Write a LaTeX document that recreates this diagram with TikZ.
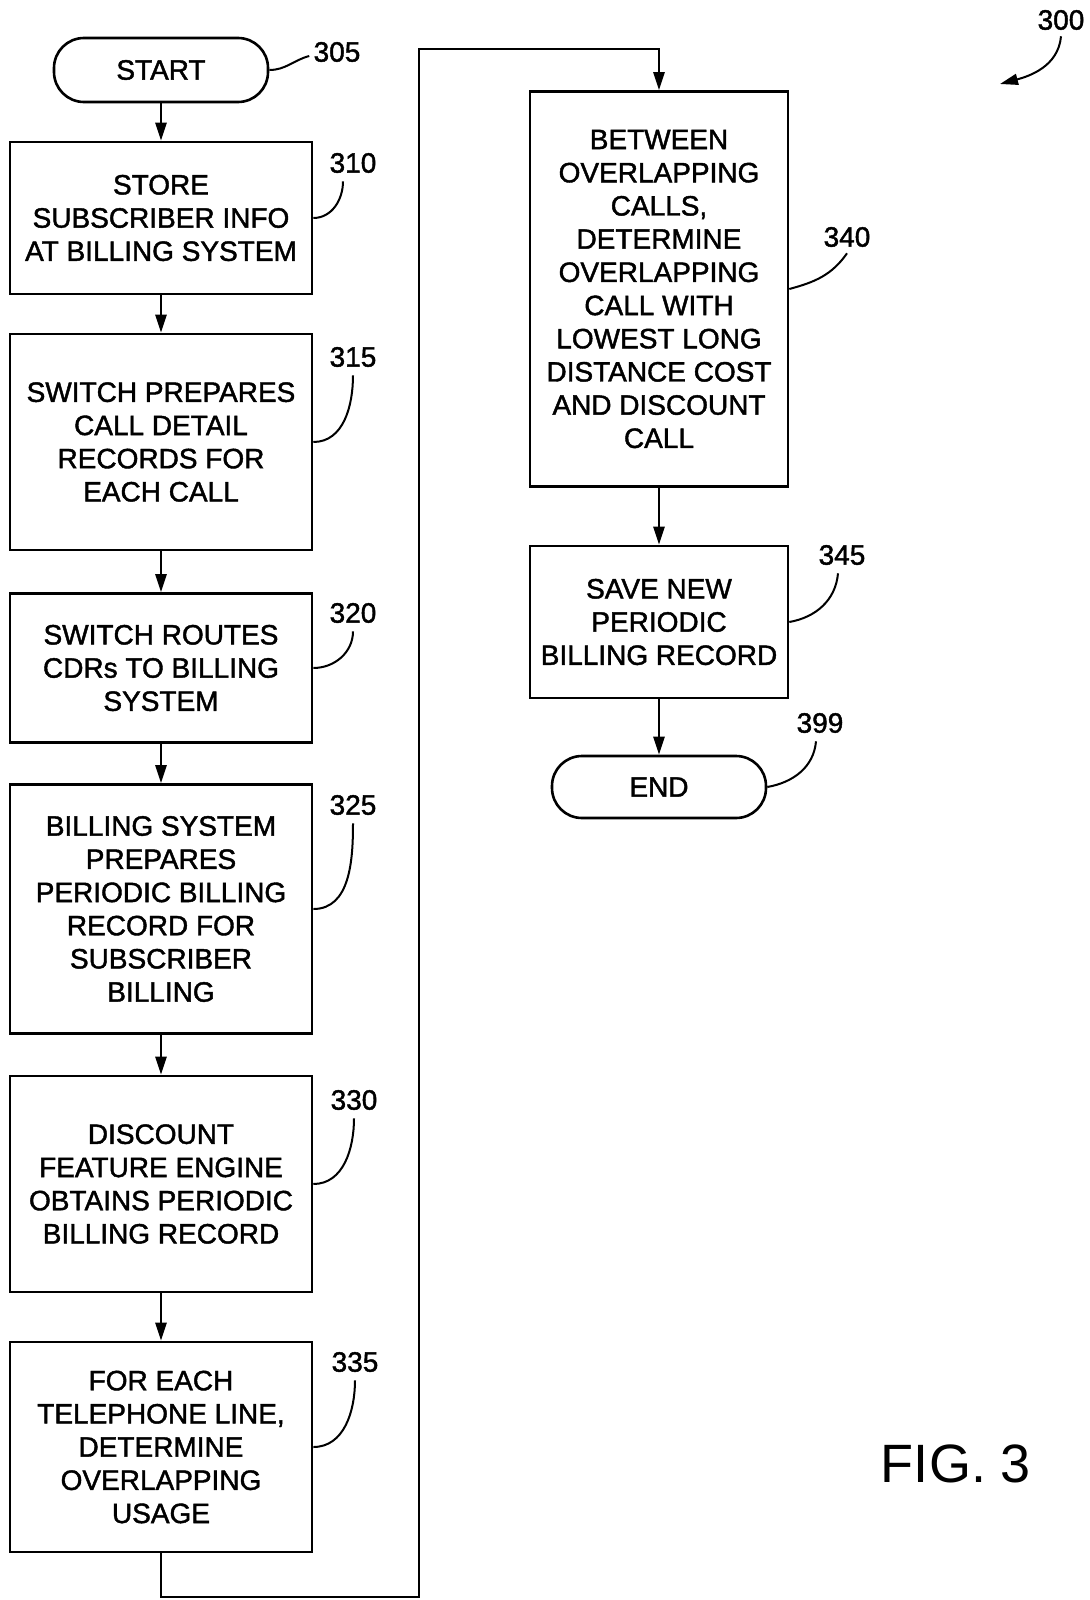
\documentclass[tikz,border=0pt]{standalone}
\usepackage{fontspec}
\setmainfont{Liberation Sans}[BoldFont={Liberation Sans},BoldFeatures={FakeBold=1.5}]
\usetikzlibrary{arrows.meta}
\pgfdeclarelayer{background}
\pgfdeclarelayer{foreground}
\pgfsetlayers{background,main,foreground}

\begin{document}
\begin{tikzpicture}[x=0.5pt,y=-0.5pt,
  blk/.style={draw,line width=1.3pt,align=center,inner sep=0pt,font=\fontsize{14}{16.6}\selectfont\bfseries},
  term/.style={blk,rounded corners=15pt},
  refnum/.style={font=\fontsize{14}{16}\selectfont\bfseries,inner sep=0pt},
  lead/.style={line width=1pt},
  flow/.style={line width=1.3pt,-{Triangle[length=9pt,width=5.5pt]}}]
\useasboundingbox (0,0) rectangle (1090,1600);
\begin{pgfonlayer}{foreground}
\node[term,minimum width=107pt,minimum height=32pt] (start) at (161,70) {START};
\node[blk,minimum width=151pt,minimum height=76pt] (s310) at (161,218) {STORE\\SUBSCRIBER INFO\\AT BILLING SYSTEM};
\node[blk,minimum width=151pt,minimum height=108pt] (s315) at (161,442) {SWITCH PREPARES\\CALL DETAIL\\RECORDS FOR\\EACH CALL};
\node[blk,minimum width=151pt,minimum height=74.5pt] (s320) at (161,668) {SWITCH ROUTES\\CDRs TO BILLING\\SYSTEM};
\node[blk,minimum width=151pt,minimum height=124.5pt] (s325) at (161,909) {BILLING SYSTEM\\PREPARES\\PERIODIC BILLING\\RECORD FOR\\SUBSCRIBER\\BILLING};
\node[blk,minimum width=151pt,minimum height=108pt] (s330) at (161,1184) {DISCOUNT\\FEATURE ENGINE\\OBTAINS PERIODIC\\BILLING RECORD};
\node[blk,minimum width=151pt,minimum height=105pt] (s335) at (161,1447) {FOR EACH\\TELEPHONE LINE,\\DETERMINE\\OVERLAPPING\\USAGE};
\node[blk,minimum width=129pt,minimum height=197.5pt] (s340) at (659,289) {BETWEEN\\OVERLAPPING\\CALLS,\\DETERMINE\\OVERLAPPING\\CALL WITH\\LOWEST LONG\\DISTANCE COST\\AND DISCOUNT\\CALL};
\node[blk,minimum width=129pt,minimum height=76pt] (s345) at (659,622) {SAVE NEW\\PERIODIC\\BILLING RECORD};
\node[term,minimum width=107pt,minimum height=31pt] (stop) at (659,787) {END};
\end{pgfonlayer}
% reference numbers
\node[refnum] (r300) at (1061,20) {300};
\node[refnum] (r305) at (337,52) {305};
\node[refnum] (r310) at (353,163) {310};
\node[refnum] (r315) at (353,357) {315};
\node[refnum] (r320) at (353,613) {320};
\node[refnum] (r325) at (353,805) {325};
\node[refnum] (r330) at (354,1100) {330};
\node[refnum] (r335) at (355,1362) {335};
\node[refnum] (r340) at (847,237) {340};
\node[refnum] (r345) at (842,555) {345};
\node[refnum] (r399) at (820,723) {399};
\node[font=\fontsize{27}{30}\selectfont] (fig) at (956,1464) {FIG. 3};
\coordinate (p300) at (1000,84);
\coordinate (lpA) at (419,1597);
\coordinate (lpB) at (419,49);
\begin{pgfonlayer}{background}
\draw[flow] (start) -- (s310);
\draw[flow] (s310) -- (s315);
\draw[flow] (s315) -- (s320);
\draw[flow] (s320) -- (s325);
\draw[flow] (s325) -- (s330);
\draw[flow] (s330) -- (s335);
\draw[flow] (s335.south) |- (lpA) -- (lpB) -| (s340.north);
\draw[flow] (s340) -- (s345);
\draw[flow] (s345) -- (stop);
% leaders
\draw[lead] (start.east) to[out=0,in=195] ([xshift=-2pt,yshift=-2pt]r305.west);
\draw[lead] (s310.east) to[out=0,in=-90] ([xshift=-5pt,yshift=-4pt]r310.south);
\draw[lead] (s315.east) to[out=0,in=-90] ([yshift=-4pt]r315.south);
\draw[lead] (s320.east) to[out=0,in=-90] ([yshift=-4pt]r320.south);
\draw[lead] (s325.east) to[out=0,in=-90] ([yshift=-4pt]r325.south);
\draw[lead] (s330.east) to[out=0,in=-90] ([yshift=-4pt]r330.south);
\draw[lead] (s335.east) to[out=0,in=-90] ([yshift=-4pt]r335.south);
\draw[lead] (s340.east) to[out=15,in=-125] ([yshift=-3pt]r340.south);
\draw[lead] (s345.east) to[out=10,in=-95] ([xshift=-2pt,yshift=-4pt]r345.south);
\draw[lead] (stop.east) to[out=10,in=-95] ([xshift=-2pt,yshift=-4pt]r399.south);
\draw[lead,-{Triangle[length=9pt,width=5.5pt]}] ([yshift=-3pt]r300.south) to[out=-95,in=15] (p300);
\end{pgfonlayer}
\end{tikzpicture}
\end{document}
